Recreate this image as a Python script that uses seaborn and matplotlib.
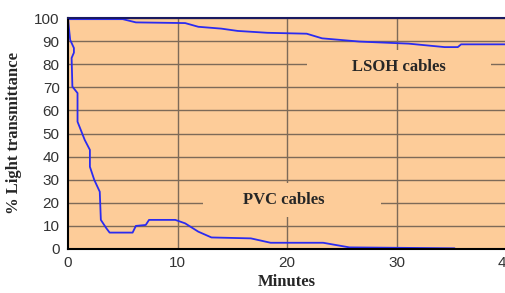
import numpy as np
import pandas as pd
import matplotlib
matplotlib.use("Agg")
import matplotlib.pyplot as plt
from matplotlib.patches import Rectangle
import seaborn as sns

# Data
lsoh_min = [0, 0.1, 5.0, 6.2, 10.7, 11.9, 14.0, 15.5, 18.2, 21.8, 23.2, 26.6, 31.1, 34.4, 35.6, 35.9, 40]
lsoh_pct = [100, 99.5, 99.5, 98.1, 97.8, 96.2, 95.4, 94.4, 93.6, 93.2, 91.2, 89.8, 88.9, 87.4, 87.4, 88.6, 88.6]

pvc_min = [0, 0.1, 0.2, 0.54, 0.54, 0.33, 0.4, 0.87, 0.87, 1.53, 2.0, 2.0, 2.4, 2.9, 3.0, 3.5, 3.8,
           5.9, 6.2, 7.1, 7.4, 9.8, 10.7, 11.9, 13.1, 16.7, 18.5, 23.3, 25.7, 35.3]
pvc_pct = [100, 95, 90.5, 87, 85, 82.7, 70.3, 67.5, 55.1, 47.2, 42.9, 35.6, 29.9, 24.8, 12.6, 9.0, 7.1,
           7.1, 10.0, 10.4, 12.6, 12.6, 11.1, 7.5, 5.0, 4.6, 2.7, 2.7, 0.7, 0.3]

base_min = [5.0, 35.3]
base_pct = [0, 0]

xticks = [0, 10, 20, 30, 40]
yticks = list(range(0, 101, 10))

sns.set_style("white")
plt.rcParams['font.family'] = ['Liberation Sans', 'DejaVu Sans']

fig = plt.figure(figsize=(5.05, 2.93), dpi=100)
ax = fig.add_axes([68 / 505, 44 / 293, 438 / 505, 231 / 293])
ax.set_facecolor("#FDCC99")

grid_c = "#7d6a58"
for xv in xticks[1:]:
    ax.axvline(xv, color=grid_c, lw=1, zorder=1)
for yv in yticks[1:]:
    ax.axhline(yv, color=grid_c, lw=1, zorder=1)

# label boxes hiding the grid
ax.add_patch(Rectangle((21.8, 71.9), 16.8, 14.2, facecolor="#FDCC99", edgecolor="none", zorder=2))
ax.add_patch(Rectangle((12.3, 13.9), 16.3, 14.7, facecolor="#FDCC99", edgecolor="none", zorder=2))

sns.lineplot(x=lsoh_min, y=lsoh_pct, sort=False, estimator=None, color="#2b2bf0", lw=1.3, ax=ax, zorder=4)
sns.lineplot(x=pvc_min, y=pvc_pct, sort=False, estimator=None, color="#2b2bf0", lw=1.3, ax=ax, zorder=4)
sns.lineplot(x=base_min, y=base_pct, sort=False, estimator=None, color="#ff33cc", lw=1.3, ax=ax, zorder=5)

ax.set_xlim(0, 40)
ax.set_ylim(0, 100)
ax.set_xticks(xticks)
ax.set_yticks(yticks)
ax.tick_params(axis="x", length=0, pad=5, labelsize=11, labelcolor="#333333")
ax.tick_params(axis="y", length=4, width=1, color="#555555", pad=2, labelsize=11, labelcolor="#333333")

for s in ["left", "bottom"]:
    ax.spines[s].set_color("black")
    ax.spines[s].set_linewidth(1.5)
ax.spines["top"].set_color("#1a1a60")
ax.spines["top"].set_linewidth(1.5)
ax.spines["right"].set_visible(False)
for sp in ax.spines.values():
    sp.set_zorder(6)

serif = ['Liberation Serif', 'DejaVu Serif']
ax.text(30.2, 79, "LSOH cables", family=serif, fontweight="bold", fontsize=12, ha="center", va="center", zorder=6)
ax.text(19.7, 21.3, "PVC cables", family=serif, fontweight="bold", fontsize=12, ha="center", va="center", zorder=6)

ax.set_xlabel("Minutes", family=serif, fontweight="bold", fontsize=12, labelpad=3)
ax.set_ylabel("% Light transmittance", family=serif, fontweight="bold", fontsize=12, labelpad=9)

fig.savefig("out.png", dpi=100)
